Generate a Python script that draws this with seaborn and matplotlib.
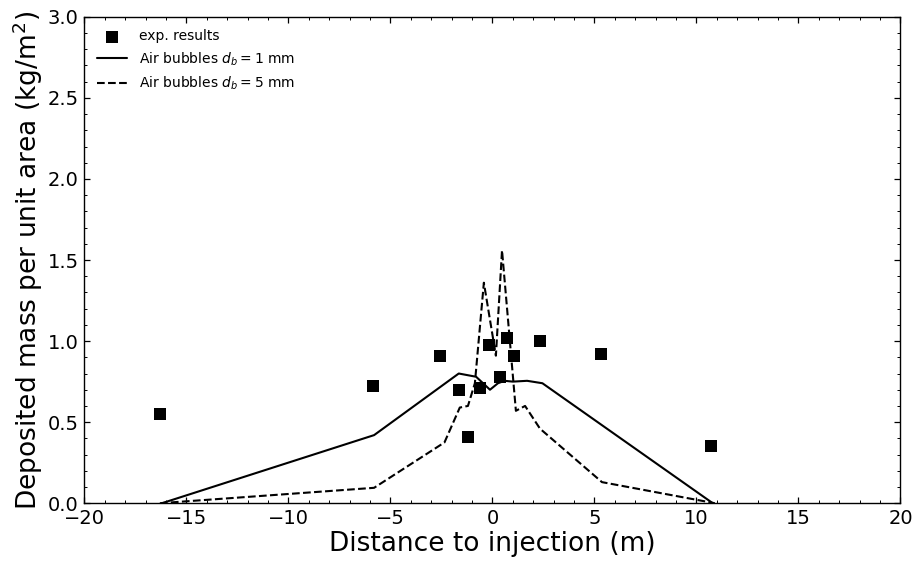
import numpy as np
import pandas as pd
import matplotlib
matplotlib.use('Agg')
import matplotlib.pyplot as plt
import seaborn as sns
from matplotlib.ticker import MultipleLocator

# Experimental results
exp_x = [-16.3, -5.85, -2.55, -1.65, -1.2, -0.6, -0.17, 0.37, 0.7, 1.05, 2.33, 5.32, 10.72]
exp_y = [0.55, 0.72, 0.91, 0.70, 0.41, 0.71, 0.975, 0.78, 1.02, 0.91, 1.0, 0.92, 0.35]

# Simulation, air bubbles d_b = 1 mm
sim1_x = [-16.2, -5.8, -1.65, -0.8, -0.12, 0.27, 0.6, 1.0, 1.7, 2.45, 10.8]
sim1_y = [0.0, 0.42, 0.80, 0.78, 0.70, 0.74, 0.755, 0.75, 0.755, 0.74, 0.0]

# Simulation, air bubbles d_b = 5 mm
sim5_x = [-16.3, -5.8, -2.35, -1.6, -1.2, -0.86, -0.42, 0.17, 0.47, 1.15, 1.6, 2.33, 5.37, 10.9]
sim5_y = [0.0, 0.095, 0.375, 0.59, 0.60, 0.74, 1.36, 0.91, 1.56, 0.57, 0.60, 0.46, 0.13, 0.0]

exp_df = pd.DataFrame({'x': exp_x, 'y': exp_y})
sim1_df = pd.DataFrame({'x': sim1_x, 'y': sim1_y})
sim5_df = pd.DataFrame({'x': sim5_x, 'y': sim5_y})

sns.set_style('white')
plt.rcParams['font.family'] = ['DejaVu Sans']
plt.rcParams['text.color'] = 'black'
plt.rcParams['axes.labelcolor'] = 'black'
plt.rcParams['xtick.color'] = 'black'
plt.rcParams['ytick.color'] = 'black'

fig, ax = plt.subplots(figsize=(9.17, 5.61), dpi=100)
fig.subplots_adjust(left=0.092, right=0.982, top=0.97, bottom=0.103)

sns.scatterplot(data=exp_df, x='x', y='y', marker='s', s=75, color='black',
                edgecolor='black', linewidth=0, label='exp. results', ax=ax, zorder=3)
sns.lineplot(data=sim1_df, x='x', y='y', color='black', linewidth=1.5,
             sort=False, estimator=None, label=r'Air bubbles $d_b = 1$ mm', ax=ax)
sns.lineplot(data=sim5_df, x='x', y='y', color='black', linewidth=1.5, linestyle='--',
             sort=False, estimator=None, label=r'Air bubbles $d_b = 5$ mm', ax=ax)

ax.set_xlim(-20, 20)
ax.set_ylim(0, 3.0)
ax.xaxis.set_major_locator(MultipleLocator(5))
ax.xaxis.set_minor_locator(MultipleLocator(1))
ax.yaxis.set_major_locator(MultipleLocator(0.5))
ax.yaxis.set_minor_locator(MultipleLocator(0.1))
ax.tick_params(which='both', direction='in', top=True, right=True, bottom=True, left=True,
               colors='black', labelsize=14)
ax.tick_params(which='major', length=4, width=0.9, pad=4)
ax.tick_params(which='minor', length=2, width=0.7)
for sp in ax.spines.values():
    sp.set_color('black')
    sp.set_linewidth(1.0)

ax.set_xlabel('Distance to injection (m)', fontsize=19, labelpad=2)
ax.set_ylabel(r'Deposited mass per unit area (kg/m$^2$)', fontsize=19, labelpad=2)

leg = ax.legend(loc='upper left', frameon=False, fontsize=10, handlelength=2.2)
for t in leg.get_texts():
    t.set_color('black')

fig.savefig('out.png', dpi=100)
